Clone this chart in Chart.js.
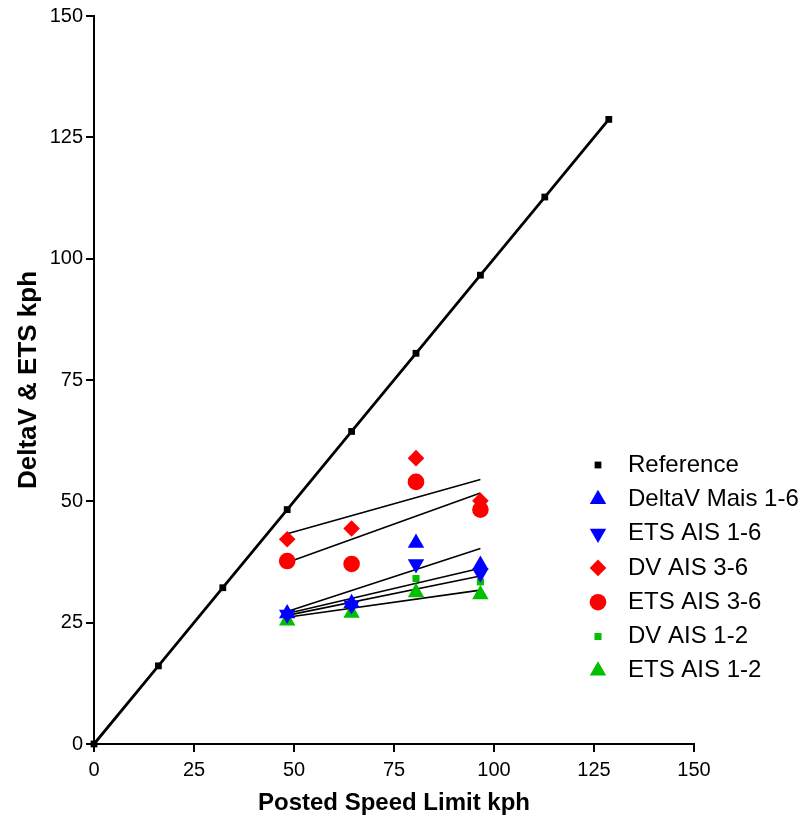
<!DOCTYPE html>
<html>
<head>
<meta charset="utf-8">
<script src="https://cdn.jsdelivr.net/npm/chart.js@4"></script>
<style>
    html, body { margin: 0; padding: 0; background: #fff; }
    #chart { display: block; }
</style>
</head>
<body>
<canvas id="chart" width="806" height="818"></canvas>
<script>
/*** Data ***/
const speedKph = [48.3, 64.4, 80.5, 96.6];
const refKph = [0, 16.1, 32.2, 48.3, 64.4, 80.5, 96.6, 112.7, 128.7];

const deltaVMais16 = [26.9, 29.0, 41.4, 36.9];
const etsAis16 = [26.7, 28.6, 37.1, 35.2];
const dvAis36 = [42.2, 44.4, 58.9, 50.1];
const etsAis36 = [37.7, 37.1, 54.0, 48.3];
const dvAis12 = [26.0, 28.0, 34.1, 33.4];
const etsAis12 = [25.4, 27.0, 31.2, 30.8];

// linear fit lines, start and end values
const fitKph = [48.3, 96.6];
const dvAis36Fit = [43.3, 54.5];
const etsAis36Fit = [37.4, 51.7];
const deltaVMais16Fit = [27.3, 40.3];
const etsAis16Fit = [26.9, 36.2];
const dvAis12Fit = [26.5, 34.6];
const etsAis12Fit = [26.1, 31.7];

const tickValues = [0, 25, 50, 75, 100, 125, 150];

/*** Helpers ***/
function pts(xs, ys) {
    return xs.map(function (x, i) { return {x: x, y: ys[i]}; });
}

function markers(label, xs, ys, color, style, radius, rotation) {
    return {
        label: label,
        data: pts(xs, ys),
        showLine: false,
        pointStyle: style,
        pointRadius: radius,
        pointRotation: rotation || 0,
        pointBackgroundColor: color,
        pointBorderColor: color,
        pointBorderWidth: 0,
        backgroundColor: color,
        borderColor: color,
        order: 1
    };
}

function fitLine(ys) {
    return {
        label: '',
        data: pts(fitKph, ys),
        showLine: true,
        borderColor: '#000',
        borderWidth: 1.6,
        pointRadius: 0,
        fill: false,
        order: 5,
        isFit: true
    };
}

/*** Legend plugin ***/
const sideLegend = {
    id: 'sideLegend',
    afterDraw: function (chart) {
        const ctx = chart.ctx;
        let y = 465;
        ctx.save();
        ctx.font = '24px "Liberation Sans", Arial, sans-serif';
        ctx.textBaseline = 'middle';
        ctx.textAlign = 'left';
        chart.data.datasets.forEach(function (ds) {
            if (ds.isFit) return;
            ctx.fillStyle = ds.pointBackgroundColor;
            ctx.strokeStyle = ds.pointBorderColor;
            Chart.helpers.drawPoint(ctx, {
                pointStyle: ds.pointStyle,
                radius: ds.pointRadius,
                rotation: ds.pointRotation || 0,
                borderWidth: 0
            }, 598, y);
            ctx.fillStyle = '#000';
            ctx.fillText(ds.label, 628, y);
            y += 34.3;
        });
        ctx.restore();
    }
};

/*** Chart ***/
const axisTitleFont = {family: '"Liberation Sans", Arial, sans-serif', size: 24, weight: 'bold'};
const tickFont = {family: '"Liberation Sans", Arial, sans-serif', size: 20};

new Chart(document.getElementById('chart'), {
    type: 'scatter',
    data: {
        datasets: [
            {
                label: 'Reference',
                data: pts(refKph, refKph),
                showLine: true,
                borderColor: '#000',
                borderWidth: 2.8,
                pointStyle: 'rect',
                pointRadius: 4.8,
                pointBackgroundColor: '#000',
                pointBorderColor: '#000',
                pointBorderWidth: 0,
                order: 0
            },
            markers('DeltaV Mais 1-6', speedKph, deltaVMais16, '#0000ff', 'triangle', 9.5),
            markers('ETS AIS 1-6', speedKph, etsAis16, '#0000ff', 'triangle', 9.5, 180),
            markers('DV AIS 3-6', speedKph, dvAis36, '#ff0000', 'rectRot', 8.3),
            markers('ETS AIS 3-6', speedKph, etsAis36, '#ff0000', 'circle', 8.3),
            markers('DV AIS 1-2', speedKph, dvAis12, '#00c000', 'rect', 5),
            markers('ETS AIS 1-2', speedKph, etsAis12, '#00c000', 'triangle', 9.5),
            fitLine(dvAis36Fit),
            fitLine(etsAis36Fit),
            fitLine(deltaVMais16Fit),
            fitLine(etsAis16Fit),
            fitLine(dvAis12Fit),
            fitLine(etsAis12Fit)
        ]
    },
    options: {
        responsive: false,
        animation: false,
        clip: false,
        layout: {
            padding: {top: 16, right: 112, left: 0, bottom: 0}
        },
        plugins: {
            legend: {display: false},
            tooltip: {enabled: false}
        },
        scales: {
            x: {
                type: 'linear',
                min: 0,
                max: 150,
                afterFit: function (scale) { scale.height = 74; },
                afterBuildTicks: function (scale) {
                    scale.ticks = tickValues.map(function (v) { return {value: v}; });
                },
                ticks: {color: '#000', font: tickFont, padding: 6, maxRotation: 0},
                grid: {drawOnChartArea: false, drawTicks: true, tickLength: 8, color: '#000', lineWidth: 2},
                border: {display: true, color: '#000', width: 2},
                title: {display: true, text: 'Posted Speed Limit kph', color: '#000', font: axisTitleFont, padding: {top: 0, bottom: 0}}
            },
            y: {
                type: 'linear',
                min: 0,
                max: 150,
                afterFit: function (scale) { scale.width = 94; },
                afterBuildTicks: function (scale) {
                    scale.ticks = tickValues.map(function (v) { return {value: v}; });
                },
                ticks: {color: '#000', font: tickFont, padding: 3},
                grid: {drawOnChartArea: false, drawTicks: true, tickLength: 8, color: '#000', lineWidth: 2},
                border: {display: true, color: '#000', width: 2},
                title: {display: true, text: 'DeltaV & ETS kph', color: '#000', font: {family: axisTitleFont.family, size: 26, weight: 'bold'}, padding: {top: 13, bottom: 0}}
            }
        }
    },
    plugins: [sideLegend]
});
</script>
</body>
</html>
